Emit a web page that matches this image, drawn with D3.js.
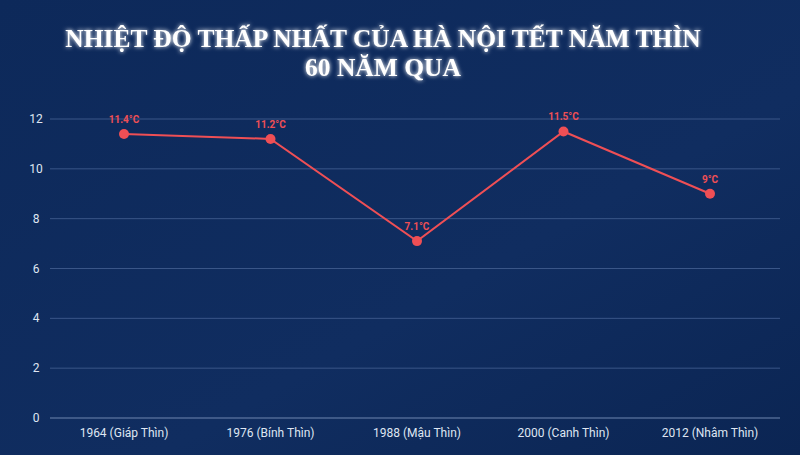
<!DOCTYPE html><html><head><meta charset="utf-8">
<script src="https://cdn.jsdelivr.net/npm/d3@7"></script>
<style>body{margin:0;background:#0f2b5c}</style></head><body>
<svg id="c" width="800" height="455"></svg>
<script>
const categories=["1964 (Giáp Thìn)","1976 (Bính Thìn)","1988 (Mậu Thìn)","2000 (Canh Thìn)","2012 (Nhâm Thìn)"];
const values=[11.4,11.2,7.1,11.5,9];
const labels=["11.4°C","11.2°C","7.1°C","11.5°C","9°C"];
const yTicks=[0,2,4,6,8,10,12];
const svg=d3.select("#c");
const defs=svg.append("defs");
const g=defs.append("linearGradient").attr("id","bg").attr("x1",0).attr("y1",0).attr("x2",1).attr("y2",1);
g.append("stop").attr("offset",0).attr("stop-color","#0d295a");
g.append("stop").attr("offset",0.6).attr("stop-color","#102d60");
g.append("stop").attr("offset",1).attr("stop-color","#0b2553");
svg.append("rect").attr("width",800).attr("height",455).attr("fill","url(#bg)");
const f=defs.append("filter").attr("id","glow");
f.append("feGaussianBlur").attr("stdDeviation",2).attr("result","b");
const m=f.append("feMerge");m.append("feMergeNode").attr("in","b");m.append("feMergeNode").attr("in","SourceGraphic");
const x=d3.scalePoint().domain(categories).range([124,710]);
const y=d3.scaleLinear().domain([0,12]).range([418,119]);
svg.append("g").selectAll("line").data(yTicks).join("line")
 .attr("x1",50).attr("x2",780).attr("y1",d=>y(d)).attr("y2",d=>y(d))
 .attr("stroke",d=>d===0?"#6f86b0":"#3a5688").attr("stroke-width",1);
svg.append("g").selectAll("text").data(yTicks).join("text")
 .attr("x",36).attr("y",d=>y(d)+4).attr("text-anchor","middle").attr("fill","#dfe6f2")
 .attr("font-family","Roboto").attr("font-size",12).text(d=>d);
svg.append("g").selectAll("text").data(categories).join("text")
 .attr("x",d=>x(d)).attr("y",437).attr("text-anchor","middle").attr("fill","#dfe6f2")
 .attr("font-family","Roboto").attr("font-size",12).text(d=>d);
svg.append("path").datum(values).attr("fill","none").attr("stroke","#ef4f55").attr("stroke-width",2)
 .attr("d",d3.line().x((d,i)=>x(categories[i])).y(d=>y(d)));
svg.append("g").selectAll("circle").data(values).join("circle")
 .attr("cx",(d,i)=>x(categories[i])).attr("cy",d=>y(d)).attr("r",5).attr("fill","#ef4f55");
svg.append("g").selectAll("text").data(values).join("text")
 .attr("x",(d,i)=>x(categories[i])).attr("y",d=>y(d)-11).attr("text-anchor","middle").attr("fill","#ef4f55")
 .attr("font-family","Roboto").attr("font-size",10).attr("font-weight","bold").text((d,i)=>labels[i]);
const t=svg.append("text").attr("text-anchor","middle").attr("fill","#fff").attr("filter","url(#glow)")
 .attr("font-family","Liberation Serif").attr("font-weight","bold").attr("font-size",25.5);
t.append("tspan").attr("x",383).attr("y",47).text("NHIỆT ĐỘ THẤP NHẤT CỦA HÀ NỘI TẾT NĂM THÌN");
t.append("tspan").attr("x",383).attr("y",76).text("60 NĂM QUA");
</script></body></html>
